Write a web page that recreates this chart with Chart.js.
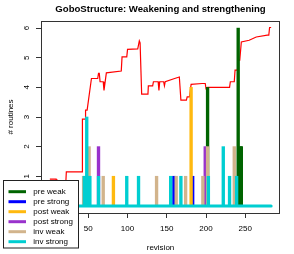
<!DOCTYPE html>
<html>
<head>
<meta charset="utf-8">
<script src="https://cdn.jsdelivr.net/npm/chart.js@4.4.1/dist/chart.umd.min.js"></script>
<style>
  html, body { margin: 0; padding: 0; background: #fff; }
  canvas { display: block; }
</style>
</head>
<body>
<canvas id="chart" width="294" height="254"></canvas>
<script>
// axis ticks
const xTicks = [0, 50, 100, 150, 200, 250];
const yTicks = [0, 1, 2, 3, 4, 5, 6];
const revRange = [1, 283];

// legend order / colours
const seriesNames = ["pre weak", "pre strong", "post weak", "post strong", "inv weak", "inv strong"];
const seriesColors = ["#006400", "#0000FF", "#FFB90F", "#9932CC", "#D2B48C", "#00CED1"];

// routines per revision, only the non-zero ones
const preWeakRevs = [202, 241, 244, 245];
const preWeakCounts = [4, 6, 2, 2];
const preStrongRevs = [159, 183];
const preStrongCounts = [1, 1];
const postWeakRevs = [82, 181];
const postWeakCounts = [1, 4];
const postStrongRevs = [63, 199];
const postStrongCounts = [2, 2];
const invWeakRevs = [44, 51, 69, 137, 162, 174, 196, 202, 236];
const invWeakCounts = [1, 2, 1, 1, 1, 1, 1, 2, 2];
const invStrongRevs = [45, 48, 50, 52, 63, 99, 114, 155, 168, 203, 222, 230, 239];
const invStrongCounts = [1, 3, 1, 1, 1, 1, 1, 1, 1, 1, 2, 1, 1];

// red line (ratio curve)
const ratioRevs = [1, 9, 10, 21, 22, 42, 42.5, 46, 46.5, 48.5, 54, 62, 63, 64, 65, 69, 70, 73, 92, 93, 99, 100, 113, 115, 116, 118, 126, 126.5, 132, 133, 139, 140, 141, 146, 147, 148, 160, 166, 168, 175, 176, 179, 181, 195, 199, 200, 202, 230, 231, 236, 237, 240, 241, 243, 245, 255, 264, 278, 280, 281, 283];
const ratioValues = [0.9, 0.9, 0.6, 0.6, 1.15, 1.15, 2.93, 2.93, 3.23, 3.23, 4.3, 4.3, 4.47, 4.47, 4.19, 4.19, 3.9, 4.49, 4.55, 5.03, 5.03, 5.28, 5.3, 5.57, 5.5, 3.77, 3.77, 4.05, 4.05, 4.19, 4.19, 3.9, 4.19, 4.19, 4.05, 4.19, 4.3, 4.35, 3.57, 3.57, 3.68, 3.68, 4.1, 4.13, 4.13, 3.96, 4.0, 4.0, 4.19, 4.19, 4.58, 4.58, 4.92, 4.92, 5.53, 5.59, 5.7, 5.76, 5.76, 6.02, 6.02];

const barRevs = [preWeakRevs, preStrongRevs, postWeakRevs, postStrongRevs, invWeakRevs, invStrongRevs];
const barCounts = [preWeakCounts, preStrongCounts, postWeakCounts, postStrongCounts, invWeakCounts, invStrongCounts];

Chart.defaults.font.family = "'Liberation Sans', Arial, sans-serif";
Chart.defaults.font.size = 8;
Chart.defaults.color = "#000";

const datasets = [];
datasets.push({
  type: "line",
  label: "ratio",
  data: ratioRevs.map((r, i) => ({ x: r, y: ratioValues[i] })),
  borderColor: "#FF0000",
  borderWidth: 1.2,
  pointRadius: 0,
  tension: 0,
  order: 20
});
barRevs.forEach((revs, i) => {
  datasets.push({
    type: "bar",
    label: seriesNames[i],
    data: revs.map((r, k) => ({ x: r, y: barCounts[i][k] })),
    backgroundColor: seriesColors[i],
    barThickness: 2.7,
    grouped: false,
    order: 10 - i
  });
});
// zero-height lines of every revision form a thick cyan baseline
datasets.push({
  type: "line",
  label: "baseline",
  data: revRange.map(r => ({ x: r, y: 0 })),
  borderColor: seriesColors[5],
  borderWidth: 3,
  borderCapStyle: "round",
  pointRadius: 0,
  order: 0
});

const boxAndLegend = {
  id: "boxAndLegend",
  afterDraw(chart) {
    const ctx = chart.ctx;
    const a = chart.chartArea;
    ctx.save();
    ctx.strokeStyle = "#333";
    ctx.lineWidth = 1;
    ctx.strokeRect(Math.round(a.left) + 0.5, Math.round(a.top) + 0.5,
      Math.round(a.right - a.left) - 1, Math.round(a.bottom - a.top));

    // legend, bottom left, over the plot
    const lx = 3, ly = 180, lw = 75, lh = 67.5;
    ctx.fillStyle = "#fff";
    ctx.fillRect(lx, ly, lw, lh);
    ctx.strokeStyle = "#222";
    ctx.strokeRect(lx + 0.5, ly + 0.5, lw, lh);
    ctx.font = "8px 'Liberation Sans', Arial, sans-serif";
    ctx.textBaseline = "middle";
    ctx.textAlign = "left";
    seriesNames.forEach((name, i) => {
      const y = ly + 11.7 + i * 10;
      ctx.strokeStyle = seriesColors[i];
      ctx.lineWidth = 3;
      ctx.beginPath();
      ctx.moveTo(lx + 5.5, y);
      ctx.lineTo(lx + 23, y);
      ctx.stroke();
      ctx.fillStyle = "#000";
      ctx.fillText(name, lx + 30.3, y);
    });
    ctx.restore();
  }
};

new Chart(document.getElementById("chart"), {
  type: "bar",
  data: { datasets },
  options: {
    responsive: false,
    animation: false,
    events: [],
    layout: { padding: { top: 0, right: 14, bottom: 0, left: 0 } },
    plugins: {
      legend: { display: false },
      tooltip: { enabled: false },
      title: {
        display: true,
        text: "GoboStructure: Weakening and strengthening",
        fullSize: false,
        font: { size: 9.6, weight: "bold" },
        color: "#000",
        padding: { top: 4, bottom: 5.48 }
      }
    },
    scales: {
      x: {
        type: "linear",
        offset: false,
        min: -10.28,
        max: 294.28,
        afterBuildTicks: s => { s.ticks = xTicks.map(v => ({ value: v })); },
        afterFit: s => { s.height = 41; },
        grid: { display: true, drawOnChartArea: false, drawTicks: true, tickLength: 5, color: "#333", offset: false },
        border: { display: false },
        ticks: { padding: 5.6, maxRotation: 0, font: { size: 8 } },
        title: { display: true, text: "revision", font: { size: 8 }, padding: { top: 0, bottom: 1.2 } }
      },
      y: {
        type: "linear",
        min: -0.24,
        max: 6.24,
        afterBuildTicks: s => { s.ticks = yTicks.map(v => ({ value: v })); },
        afterFit: s => { s.width = 41; },
        grid: { display: true, drawOnChartArea: false, drawTicks: true, tickLength: 5, color: "#333" },
        border: { display: false },
        ticks: { padding: 6.8, minRotation: 90, maxRotation: 90, crossAlign: "center", font: { size: 8 } },
        title: { display: true, text: "# routines", font: { size: 8 }, padding: { top: 5.7, bottom: 0 } }
      }
    }
  },
  plugins: [boxAndLegend]
});
</script>
</body>
</html>
